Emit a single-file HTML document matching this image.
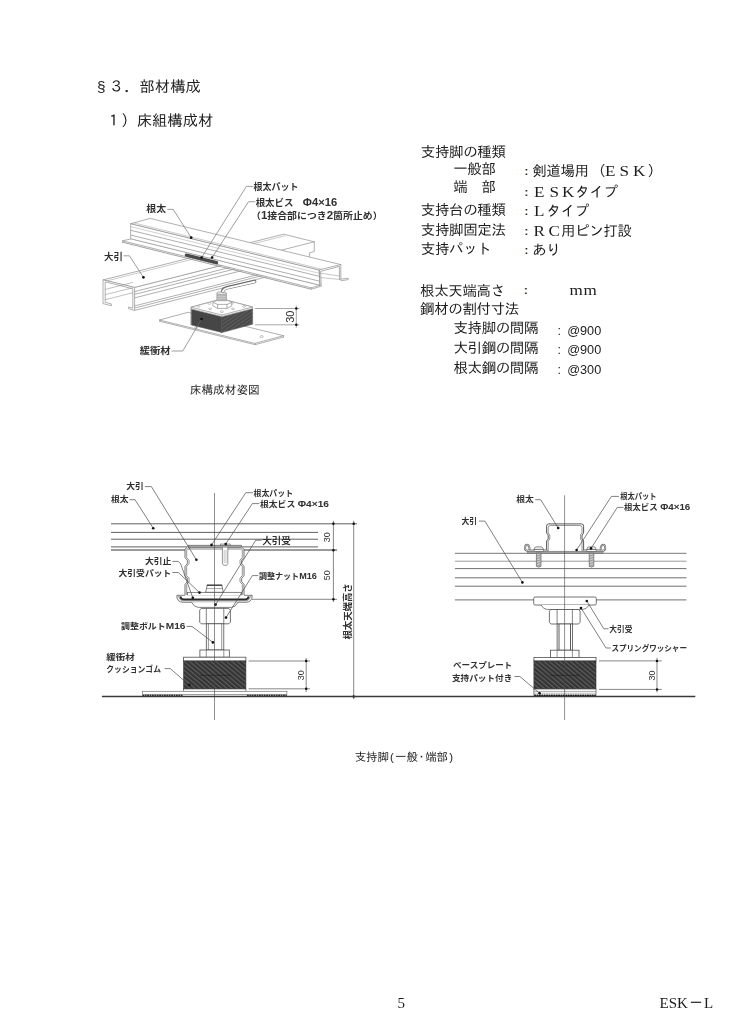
<!DOCTYPE html>
<html lang="ja">
<head>
<meta charset="utf-8">
<title>§３．部材構成</title>
<style>
html,body{margin:0;padding:0;background:#fff;}
body{width:731px;height:1024px;position:relative;overflow:hidden;
  font-family:"Liberation Sans","IPAGothic",sans-serif;color:#1c1c1c;}
.t{position:absolute;white-space:nowrap;line-height:1;margin:0;padding:0;}
.h{font-size:15.33px;}
.b{font-size:14.5px;letter-spacing:-0.38px;}
.fw{display:inline-block;text-align:center;}
.h .fw{width:15.33px;}
.b .fw{width:14.4px;letter-spacing:0;}
.lat{font-family:"Liberation Serif",serif;transform:scale(1.18,1.06);transform-origin:50% 80%;}
.num{font-family:"Liberation Sans",sans-serif;font-size:12.7px;}
.cap{font-size:11.67px;}
.hp{display:inline-block;width:6.4px;text-align:center;letter-spacing:0;}
.ft{font-family:"Liberation Serif","IPAGothic",serif;font-size:15px;}
svg.dw{position:absolute;left:0;top:0;filter:blur(0.45px);}
.t{filter:blur(0.3px);}
svg text{font-family:"Liberation Sans","Noto Sans CJK JP",sans-serif;font-weight:700;fill:#303030;}
</style>
</head>
<body>
<div class="t h" style="left:93.5px;top:78.9px"><span class="fw">§</span>３．部材構成</div>
<div class="t h" style="left:106px;top:113.1px">１）床組構成材</div>

<div class="t b" style="left:420.8px;top:144.8px">支持脚の種類</div>
<div class="t b" style="left:453.2px;top:161.6px">一般部</div>
<div class="t b" style="left:453.2px;top:179.7px">端　部</div>
<div class="t b" style="left:420.8px;top:202.9px">支持台の種類</div>
<div class="t b" style="left:420.8px;top:223.0px">支持脚固定法</div>
<div class="t b" style="left:420.8px;top:241.8px">支持パット</div>

<div class="t b" style="left:524.5px;top:165.9px;font-size:11px;font-weight:700;filter:none">:</div>
<div class="t b" style="left:532.2px;top:163.6px">剣道場用<span style="position:relative;left:2.5px">（</span><span class="fw lat">E</span><span class="fw lat">S</span><span class="fw lat">K</span><span style="position:relative;left:1.5px">）</span></div>
<div class="t b" style="left:524.5px;top:186.8px;font-size:11px;font-weight:700;filter:none">:</div>
<div class="t b" style="left:532.2px;top:184.5px"><span class="fw lat">E</span><span class="fw lat">S</span><span class="fw lat">K</span>タイプ</div>
<div class="t b" style="left:524.5px;top:206.2px;font-size:11px;font-weight:700;filter:none">:</div>
<div class="t b" style="left:532.2px;top:203.9px"><span class="fw lat">L</span>タイプ</div>
<div class="t b" style="left:524.5px;top:226.0px;font-size:11px;font-weight:700;filter:none">:</div>
<div class="t b" style="left:532.2px;top:223.7px"><span class="fw lat">R</span><span class="fw lat">C</span>用ピン打設</div>
<div class="t b" style="left:524.5px;top:245.2px;font-size:11px;font-weight:700;filter:none">:</div>
<div class="t b" style="left:532.2px;top:242.9px">あり</div>

<div class="t b" style="left:420.1px;top:283.5px">根太天端高さ</div>
<div class="t b" style="left:524.0px;top:285.3px;font-size:11px;font-weight:700;filter:none">:</div>
<div class="t b" style="left:568.8px;top:283.0px"><span class="fw lat">m</span><span class="fw lat">m</span></div>
<div class="t b" style="left:420.1px;top:301.8px">鋼材の割付寸法</div>
<div class="t b" style="left:453.4px;top:321.1px">支持脚の間隔</div>
<div class="t b" style="left:453.4px;top:340.6px">大引鋼の間隔</div>
<div class="t b" style="left:453.4px;top:360.8px">根太鋼の間隔</div>
<div class="t num" style="left:557.4px;top:324.5px">:</div>
<div class="t num" style="left:567.2px;top:324.5px">@900</div>
<div class="t num" style="left:557.4px;top:343.8px">:</div>
<div class="t num" style="left:567.2px;top:343.8px">@900</div>
<div class="t num" style="left:557.4px;top:364.1px">:</div>
<div class="t num" style="left:567.2px;top:364.1px">@300</div>

<div class="t cap" style="left:189.8px;top:384.2px">床構成材姿図</div>
<div class="t cap" style="left:354.8px;top:752px;font-size:11.5px;letter-spacing:-0.2px">支持脚<span class="hp">(</span>一般<span style="display:inline-block;width:7.6px;text-indent:-1.9px">・</span>端部<span class="hp">)</span></div>

<div class="t ft" style="left:397.6px;top:996.2px">5</div>
<div class="t ft" style="left:659.6px;top:996.2px">ESK<span style="display:inline-block;width:15px;text-align:center;margin:0 0.5px">－</span>L</div>
<svg class="dw" width="731" height="1024" viewBox="0 0 731 1024">
<g id="fig1">
<path d="M159.8 319.9 L188.2 312.3 L283.5 335.7 L255.1 343.3 Z" fill="#fff" stroke="#969696" stroke-width="0.75" stroke-linejoin="round" stroke-linecap="round" />
<path d="M159.8 321.3 L255.1 344.7 L283.5 337.1" fill="none" stroke="#969696" stroke-width="0.75" stroke-linejoin="round" stroke-linecap="round" />
<path d="M159.8 319.9 L159.8 321.3" fill="none" stroke="#969696" stroke-width="0.75" stroke-linejoin="round" stroke-linecap="round" />
<path d="M255.1 343.3 L255.1 344.7" fill="none" stroke="#969696" stroke-width="0.75" stroke-linejoin="round" stroke-linecap="round" />
<path d="M283.5 335.7 L283.5 337.1" fill="none" stroke="#969696" stroke-width="0.75" stroke-linejoin="round" stroke-linecap="round" />
<ellipse cx="261.6" cy="336.6" rx="1.6" ry="1" fill="#fff" stroke="#969696" stroke-width="0.6"/>
<ellipse cx="196" cy="327.6" rx="1.4" ry="0.9" fill="#fff" stroke="#969696" stroke-width="0.6"/>
<defs><pattern id="hz1" width="3" height="3" patternUnits="userSpaceOnUse" patternTransform="rotate(-35)"><rect width="3" height="3" fill="#494949"/><rect width="3" height="0.8" fill="#626262"/></pattern></defs>
<path d="M191.3 308.9 L221.9 316.6 L221.9 332.6 L191.3 324.9 Z" fill="#464646" stroke="#555" stroke-width="0.5" stroke-linejoin="round" stroke-linecap="round" />
<path d="M221.9 316.6 L252.6 308.6 L252.6 324.2 L221.9 332.6 Z" fill="url(#hz1)" stroke="#555" stroke-width="0.5" stroke-linejoin="round" stroke-linecap="round" />
<path d="M191.3 308.9 L221.9 316.6 L252.6 308.6 L252.6 307.0 L222.0 299.0 L191.3 307.3 Z" fill="#fff" stroke="#969696" stroke-width="0.75" stroke-linejoin="round" stroke-linecap="round" />
<path d="M191.3 307.3 L221.9 315.0 L252.6 307.0 L222.0 299.0 Z" fill="#fff" stroke="#969696" stroke-width="0.75" stroke-linejoin="round" stroke-linecap="round" />
<path d="M221.9 315.0 L221.9 316.6" fill="none" stroke="#969696" stroke-width="0.75" stroke-linejoin="round" stroke-linecap="round" />
<ellipse cx="198.5" cy="306.4" rx="1.5" ry="0.9" fill="#fff" stroke="#969696" stroke-width="0.55"/>
<ellipse cx="209.5" cy="303.4" rx="1.5" ry="0.9" fill="#fff" stroke="#969696" stroke-width="0.55"/>
<ellipse cx="210.2" cy="308.9" rx="1.5" ry="0.9" fill="#fff" stroke="#969696" stroke-width="0.55"/>
<ellipse cx="221.9" cy="311.7" rx="1.5" ry="0.9" fill="#fff" stroke="#969696" stroke-width="0.55"/>
<ellipse cx="233.0" cy="308.9" rx="1.5" ry="0.9" fill="#fff" stroke="#969696" stroke-width="0.55"/>
<ellipse cx="244.0" cy="306.4" rx="1.5" ry="0.9" fill="#fff" stroke="#969696" stroke-width="0.55"/>
<ellipse cx="231.7" cy="303.4" rx="1.5" ry="0.9" fill="#fff" stroke="#969696" stroke-width="0.55"/>
<path d="M213.2 302.4 L217.0 300.2 L227.6 300.2 L231.7 302.4 L231.7 306.0 L227.0 308.4 L217.6 308.4 L213.2 306.0 Z" fill="#fff" stroke="#969696" stroke-width="0.75" stroke-linejoin="round" stroke-linecap="round" />
<path d="M213.2 302.4 L217.6 304.4 L227.0 304.4 L231.7 302.4" fill="none" stroke="#969696" stroke-width="0.75" stroke-linejoin="round" stroke-linecap="round" />
<path d="M217.6 304.4 L217.6 308.4" fill="none" stroke="#969696" stroke-width="0.75" stroke-linejoin="round" stroke-linecap="round" />
<path d="M227.0 304.4 L227.0 308.4" fill="none" stroke="#969696" stroke-width="0.75" stroke-linejoin="round" stroke-linecap="round" />
<rect x="216.9" y="293.2" width="9.6" height="7.6" fill="#cfcfcf" stroke="#969696" stroke-width="0.7"/>
<ellipse cx="221.7" cy="293.2" rx="4.8" ry="1.4" fill="#e4e4e4" stroke="#969696" stroke-width="0.7"/>
<path d="M216.9 295.2 Q221.7 296.8 226.5 295.2" fill="none" stroke="#9a9a9a" stroke-width="0.6"/>
<path d="M216.9 297.2 Q221.7 298.8 226.5 297.2" fill="none" stroke="#9a9a9a" stroke-width="0.6"/>
<path d="M216.9 299.0 Q221.7 300.6 226.5 299.0" fill="none" stroke="#9a9a9a" stroke-width="0.6"/>
<path d="M134.6 287.4 L274.8 251.8 L274.8 274.8 L134.6 310.4 Z" fill="#fff" stroke="none" stroke-width="0.75" stroke-linejoin="round" stroke-linecap="round" />
<path d="M134.6 287.4 L274.8 251.8" fill="none" stroke="#969696" stroke-width="0.75" stroke-linejoin="round" stroke-linecap="round" />
<path d="M134.6 291.6 L274.8 256.0" fill="none" stroke="#969696" stroke-width="0.75" stroke-linejoin="round" stroke-linecap="round" />
<path d="M134.6 294.4 L274.8 258.8" fill="none" stroke="#969696" stroke-width="0.75" stroke-linejoin="round" stroke-linecap="round" />
<path d="M134.6 297.9 L274.8 262.3" fill="none" stroke="#969696" stroke-width="0.75" stroke-linejoin="round" stroke-linecap="round" />
<path d="M134.6 305.9 L274.8 270.3" fill="none" stroke="#969696" stroke-width="0.75" stroke-linejoin="round" stroke-linecap="round" />
<path d="M134.6 308.0 L274.8 272.4" fill="none" stroke="#969696" stroke-width="0.75" stroke-linejoin="round" stroke-linecap="round" />
<path d="M134.6 310.4 L274.8 274.8" fill="none" stroke="#969696" stroke-width="0.75" stroke-linejoin="round" stroke-linecap="round" />
<path d="M103.4 279.9 L283.5 234.2 L314.3 241.8 L134.6 287.4 Z" fill="#fff" stroke="#969696" stroke-width="0.75" stroke-linejoin="round" stroke-linecap="round" />
<path d="M104.6 281.5 L284.7 235.8" fill="none" stroke="#969696" stroke-width="0.5" stroke-linejoin="round" stroke-linecap="round" />
<path d="M103.4 279.9 L134.6 287.4 L134.6 310.4 L128.6 308.8 L128.6 307.0 L132.8 308.2 L132.8 288.8 L105.2 281.8 L105.2 302.3 L111.4 303.9 L111.4 305.7 L103.4 303.7 Z" fill="#fff" stroke="#969696" stroke-width="0.75" stroke-linejoin="round" stroke-linecap="round" />
<path d="M105.2 289.4 L132.6 282.5" fill="none" stroke="#969696" stroke-width="0.6" stroke-linejoin="round" stroke-linecap="round" />
<path d="M105.2 294.7 L132.6 287.8" fill="none" stroke="#969696" stroke-width="0.6" stroke-linejoin="round" stroke-linecap="round" />
<path d="M105.2 299.7 L132.6 292.8" fill="none" stroke="#969696" stroke-width="0.6" stroke-linejoin="round" stroke-linecap="round" />
<path d="M314.3 241.8 L314.3 251.5 L309.4 252.9 L309.4 257.4" fill="none" stroke="#969696" stroke-width="0.75" stroke-linejoin="round" stroke-linecap="round" />
<path d="M222.6 291.0 Q223.6 288.6 227 287.8 L254.6 281.5" fill="none" stroke="#6a6a6a" stroke-width="3.5" stroke-linecap="round"/>
<path d="M222.75 291.3 Q223.75 288.9 227.1 288.1 L254.6 281.8" fill="none" stroke="#fafafa" stroke-width="2.0" stroke-linecap="round"/>
<path d="M340.8 264.6 L340.8 279.2 L348.2 278.2 L348.2 279.6 L340.8 280.8" fill="#fff" stroke="#969696" stroke-width="0.75" stroke-linejoin="round" stroke-linecap="round" />
<path d="M131.1 238.9 L122.5 240.8 L311.2 287.8 L319.9 285.3 Z" fill="#fff" stroke="#969696" stroke-width="0.75" stroke-linejoin="round" stroke-linecap="round" />
<path d="M122.5 242.2 L311.2 289.2" fill="none" stroke="#969696" stroke-width="0.9" stroke-linejoin="round" stroke-linecap="round" />
<path d="M122.5 240.8 L122.5 242.2" fill="none" stroke="#969696" stroke-width="0.75" stroke-linejoin="round" stroke-linecap="round" />
<path d="M131.1 223.6 L319.2 269.9 L319.9 285.3 L131.1 238.9 Z" fill="#fff" stroke="#969696" stroke-width="0.75" stroke-linejoin="round" stroke-linecap="round" />
<path d="M131.1 226.7 L319.2 273.3" fill="none" stroke="#b4b4b4" stroke-width="0.6" stroke-linejoin="round" stroke-linecap="round" />
<path d="M131.1 230.4 L319.2 276.3" fill="none" stroke="#969696" stroke-width="0.75" stroke-linejoin="round" stroke-linecap="round" />
<path d="M131.1 235.2 L319.2 281.1" fill="none" stroke="#969696" stroke-width="0.75" stroke-linejoin="round" stroke-linecap="round" />
<path d="M131.1 223.6 L150.2 218.4 L340.8 264.6 L319.2 269.9 Z" fill="#fff" stroke="#969696" stroke-width="0.75" stroke-linejoin="round" stroke-linecap="round" />
<path d="M133.8 222.9 L321.8 269.3" fill="none" stroke="#969696" stroke-width="0.5" stroke-linejoin="round" stroke-linecap="round" />
<path d="M311.2 287.8 L311.2 289.2 L321.3 286.2 L320.6 271.4 L339.4 266.4 L339.4 279.4 L340.8 279.2" fill="none" stroke="#969696" stroke-width="0.75" stroke-linejoin="round" stroke-linecap="round" />
<path d="M320.6 273.2 L339.4 276.0" fill="none" stroke="#969696" stroke-width="0.55" stroke-linejoin="round" stroke-linecap="round" />
<path d="M320.6 277.6 L339.4 279.4" fill="none" stroke="#969696" stroke-width="0.55" stroke-linejoin="round" stroke-linecap="round" />
<path d="M319.2 269.9 L319.9 285.3" fill="none" stroke="#969696" stroke-width="0.75" stroke-linejoin="round" stroke-linecap="round" />
<path d="M186.4 255.2 L216.6 262.6" fill="none" stroke="#4a4a4a" stroke-width="3.3" stroke-linecap="round"/>
<path d="M255.5 308.5 L299.0 308.5" fill="none" stroke="#6a6a6a" stroke-width="0.6" stroke-linejoin="round" stroke-linecap="round" />
<path d="M255.5 324.8 L299.0 324.8" fill="none" stroke="#6a6a6a" stroke-width="0.6" stroke-linejoin="round" stroke-linecap="round" />
<path d="M296.3 306.0 L296.3 327.3" fill="none" stroke="#6a6a6a" stroke-width="0.6" stroke-linejoin="round" stroke-linecap="round" />
<circle cx="296.3" cy="308.5" r="1.2" fill="#111"/>
<circle cx="296.3" cy="324.8" r="1.2" fill="#111"/>
<text transform="translate(294.2 316.7) rotate(-90)" text-anchor="middle" font-size="11" style="font-weight:400;font-family:'Liberation Sans',sans-serif" fill="#333">30</text>
<path d="M167.7 209.4 L173.2 209.4 L191.2 237.7" fill="none" stroke="#6a6a6a" stroke-width="0.65" stroke-linejoin="round" stroke-linecap="round" />
<circle cx="191.2" cy="237.7" r="1.35" fill="#111"/>
<path d="M123.9 255.8 L129.4 255.8 L143.4 277.3" fill="none" stroke="#6a6a6a" stroke-width="0.65" stroke-linejoin="round" stroke-linecap="round" />
<circle cx="143.4" cy="277.3" r="1.35" fill="#111"/>
<path d="M253.0 186.4 L246.4 186.4 L201.6 257.5" fill="none" stroke="#6a6a6a" stroke-width="0.65" stroke-linejoin="round" stroke-linecap="round" />
<circle cx="201.6" cy="257.5" r="1.35" fill="#111"/>
<path d="M255.0 201.7 L248.6 201.7 L212.1 257.5" fill="none" stroke="#6a6a6a" stroke-width="0.65" stroke-linejoin="round" stroke-linecap="round" />
<circle cx="212.1" cy="257.5" r="1.35" fill="#111"/>
<path d="M171.9 351.0 L182.8 351.0 L201.6 319.0" fill="none" stroke="#6a6a6a" stroke-width="0.65" stroke-linejoin="round" stroke-linecap="round" />
<circle cx="201.6" cy="319.0" r="1.35" fill="#111"/>
<text x="146.3" y="212.2" font-size="9.1" textLength="19.8" lengthAdjust="spacingAndGlyphs" >根太</text>
<text x="104.1" y="259.7" font-size="9.1" textLength="19.0" lengthAdjust="spacingAndGlyphs" >大引</text>
<text x="253.5" y="190.3" font-size="9.1" textLength="45.0" lengthAdjust="spacingAndGlyphs" >根太パット</text>
<text x="255.7" y="205.5" font-size="9.1" textLength="81.5" lengthAdjust="spacingAndGlyphs" >根太ビス　<tspan font-size="10.8">Φ4×16</tspan></text>
<text x="251.0" y="218.8" font-size="9.1" textLength="131.6" lengthAdjust="spacingAndGlyphs" >（<tspan font-size="10.6">1</tspan>接合部につき<tspan font-size="10.6">2</tspan>箇所止め）</text>
<text x="139.7" y="354.2" font-size="9.1" textLength="30.8" lengthAdjust="spacingAndGlyphs" >緩衝材</text>
</g>
<g id="fig2">
<defs><pattern id="hz2" width="3.4" height="3.4" patternUnits="userSpaceOnUse" patternTransform="rotate(40)"><rect width="3.4" height="3.4" fill="#343434"/><rect width="3.4" height="1.2" fill="#5c5c5c"/></pattern></defs>
<path d="M111.0 523.8 L357.0 523.8" fill="none" stroke="#606060" stroke-width="1.0" />
<path d="M111.0 532.4 L318.0 532.4" fill="none" stroke="#606060" stroke-width="1.0" />
<path d="M111.0 539.2 L318.0 539.2" fill="none" stroke="#606060" stroke-width="1.0" />
<path d="M111.0 546.9 L318.0 546.9" fill="none" stroke="#606060" stroke-width="1.0" />
<path d="M111.0 550.0 L337.0 550.0" fill="none" stroke="#7a7a7a" stroke-width="1.6" />
<path d="M186.6 547.4 L185.0 549.6 L185.0 557.6 L187.3 560.2 L187.3 563.8 L185.0 566.4 L185.0 575.6 L187.3 578.2 L187.3 581.8 L185.0 584.4 L185.0 595.3 L244.0 595.3 L244.0 584.4 L241.7 581.8 L241.7 578.2 L244.0 575.6 L244.0 566.4 L241.7 563.8 L241.7 560.2 L244.0 557.6 L244.0 549.6 L242.4 547.4 Z" fill="#fff" stroke="none" stroke-width="0.8" stroke-linejoin="round" />
<path d="M186.6 547.4 L185.0 549.6 L185.0 557.6 L187.3 560.2 L187.3 563.8 L185.0 566.4 L185.0 575.6 L187.3 578.2 L187.3 581.8 L185.0 584.4 L185.0 595.3" fill="none" stroke="#4f4f4f" stroke-width="0.8" stroke-linejoin="round" />
<path d="M242.4 547.4 L244.0 549.6 L244.0 557.6 L241.7 560.2 L241.7 563.8 L244.0 566.4 L244.0 575.6 L241.7 578.2 L241.7 581.8 L244.0 584.4 L244.0 595.3" fill="none" stroke="#4f4f4f" stroke-width="0.8" stroke-linejoin="round" />
<path d="M186.7 549.6 L186.7 557.6 L189.0 560.2 L189.0 563.8 L186.7 566.4 L186.7 575.6 L189.0 578.2 L189.0 581.8 L186.7 584.4 L186.7 595.3" fill="none" stroke="#4f4f4f" stroke-width="0.6" stroke-linejoin="round" />
<path d="M242.3 549.6 L242.3 557.6 L240.0 560.2 L240.0 563.8 L242.3 566.4 L242.3 575.6 L240.0 578.2 L240.0 581.8 L242.3 584.4 L242.3 595.3" fill="none" stroke="#4f4f4f" stroke-width="0.6" stroke-linejoin="round" />
<rect x="188.5" y="545.2" width="52.9" height="2.2" fill="#a2a2a2" stroke="#5a5a5a" stroke-width="0.6" />
<path d="M186.6 549.0 L242.4 549.0" fill="none" stroke="#4f4f4f" stroke-width="0.7" />
<path d="M222.4 547.5 L222.4 563.6 L223.6 565.3 L226.6 565.3 L227.8 563.6 L227.8 547.5" fill="#fff" stroke="#4f4f4f" stroke-width="0.6" stroke-linejoin="round" />
<path d="M224.2 550.0 L224.2 563.0" fill="none" stroke="#888" stroke-width="0.5" />
<path d="M226.0 550.0 L226.0 563.0" fill="none" stroke="#888" stroke-width="0.5" />
<rect x="220.2" y="544.0" width="10.0" height="1.4" fill="#ddd" stroke="#4f4f4f" stroke-width="0.5" />
<rect x="187.4" y="592.3" width="54.2" height="3.3" fill="#fff" stroke="#4f4f4f" stroke-width="0.7" />
<path d="M205.7 592.3 L207.2 585.2 L221.8 585.2 L223.3 592.3 Z" fill="#fff" stroke="#4f4f4f" stroke-width="0.7" stroke-linejoin="round" />
<path d="M206.8 585.2 L222.2 585.2" fill="none" stroke="#333" stroke-width="1.2" />
<path d="M206.4 588.6 L222.6 588.6" fill="none" stroke="#4f4f4f" stroke-width="0.5" />
<path d="M176.8 595.3 Q176.8 602.2 183 602.2 L246 602.2 Q252.2 602.2 252.2 595.3" fill="#fff" stroke="#4f4f4f" stroke-width="0.8"/>
<path d="M178.6 595.3 Q178.8 600.6 183.4 600.6 L245.6 600.6 Q250.2 600.6 250.4 595.3" fill="none" stroke="#4f4f4f" stroke-width="0.6"/>
<path d="M176.8 595.3 L185.0 595.3" fill="none" stroke="#4f4f4f" stroke-width="0.7" />
<path d="M244.0 595.3 L252.2 595.3" fill="none" stroke="#4f4f4f" stroke-width="0.7" />
<path d="M180.4 596.4 Q180.8 599.4 183.6 599.4 L245.4 599.4 Q248.2 599.4 248.6 596.4" fill="none" stroke="#2a2a2a" stroke-width="1.9"/>
<path d="M191.6 602.2 Q194 607.4 198.4 607.4 L231.2 607.4 Q235.6 607.4 238 602.2" fill="#fff" stroke="#4f4f4f" stroke-width="0.7"/>
<path d="M201.2 608.4 L228.8 608.4 L230.4 610.2 L230.4 622.2 L228.8 623.8 L201.2 623.8 L199.7 622.2 L199.7 610.2 Z" fill="#fff" stroke="#4f4f4f" stroke-width="0.8" stroke-linejoin="round" />
<path d="M206.3 608.4 L206.3 623.8" fill="none" stroke="#4f4f4f" stroke-width="0.7" />
<path d="M223.8 608.4 L223.8 623.8" fill="none" stroke="#4f4f4f" stroke-width="0.7" />
<rect x="206.3" y="623.8" width="17.5" height="26.2" fill="#fff" stroke="#4f4f4f" stroke-width="0.8" />
<path d="M208.4 623.8 L208.4 650.0" fill="none" stroke="#4f4f4f" stroke-width="0.6" />
<path d="M221.7 623.8 L221.7 650.0" fill="none" stroke="#4f4f4f" stroke-width="0.6" />
<rect x="199.9" y="650.0" width="29.4" height="7.2" fill="#fff" stroke="#4f4f4f" stroke-width="0.8" />
<path d="M206.3 650.0 L206.3 657.2" fill="none" stroke="#4f4f4f" stroke-width="0.6" />
<path d="M223.8 650.0 L223.8 657.2" fill="none" stroke="#4f4f4f" stroke-width="0.6" />
<rect x="183.6" y="657.2" width="62.3" height="3.8" fill="#fff" stroke="#4f4f4f" stroke-width="0.8" />
<rect x="183.6" y="661.0" width="62.3" height="28.0" fill="url(#hz2)" stroke="#333" stroke-width="0.6" />
<path d="M200.0 675.4 L230.0 675.4" fill="none" stroke="#1e1e1e" stroke-width="0.6" />
<rect x="183.6" y="689.0" width="62.3" height="2.4" fill="#fff" stroke="#4f4f4f" stroke-width="0.6" />
<rect x="142.4" y="691.3" width="144.5" height="3.3" fill="#fff" stroke="#777" stroke-width="0.7" />
<path d="M142.4 695.4 L182.5 695.4" fill="none" stroke="#2a2a2a" stroke-width="1.3" stroke-dasharray="1.8 0.6"/>
<path d="M247.0 695.4 L286.9 695.4" fill="none" stroke="#2a2a2a" stroke-width="1.3" stroke-dasharray="1.8 0.6"/>
<path d="M214.5 493.0 L214.5 720.0" fill="none" stroke="#444" stroke-width="0.6" />
<path d="M252.0 599.3 L337.0 599.3" fill="none" stroke="#555" stroke-width="0.7" />
<path d="M333.4 520.8 L333.4 602.0" fill="none" stroke="#555" stroke-width="0.7" />
<circle cx="333.4" cy="523.8" r="1.25" fill="#111"/>
<circle cx="333.4" cy="550.2" r="1.25" fill="#111"/>
<circle cx="333.4" cy="599.3" r="1.25" fill="#111"/>
<path d="M353.7 520.8 L353.7 699.2" fill="none" stroke="#555" stroke-width="0.7" />
<circle cx="353.7" cy="523.8" r="1.25" fill="#111"/>
<circle cx="353.7" cy="696.5" r="1.25" fill="#111"/>
<text transform="translate(330.0 537.3) rotate(-90)" text-anchor="middle" font-size="9" style="font-weight:400;font-family:'Liberation Sans',sans-serif" fill="#333">30</text>
<text transform="translate(330.0 575.2) rotate(-90)" text-anchor="middle" font-size="9" style="font-weight:400;font-family:'Liberation Sans',sans-serif" fill="#333">50</text>
<text transform="translate(350.6 611.4) rotate(-90)" text-anchor="middle" font-size="8.8" textLength="56.2" lengthAdjust="spacingAndGlyphs" >根太天端高さ</text>
<path d="M248.6 661.0 L310.0 661.0" fill="none" stroke="#555" stroke-width="0.7" />
<path d="M248.6 688.8 L310.0 688.8" fill="none" stroke="#555" stroke-width="0.7" />
<path d="M306.2 658.0 L306.2 692.0" fill="none" stroke="#555" stroke-width="0.7" />
<circle cx="306.2" cy="661.0" r="1.25" fill="#111"/>
<circle cx="306.2" cy="688.8" r="1.25" fill="#111"/>
<text transform="translate(304.3 675.2) rotate(-90)" text-anchor="middle" font-size="9" style="font-weight:400;font-family:'Liberation Sans',sans-serif" fill="#333">30</text>
<path d="M144.9 486.6 L151.4 486.6 L196.4 559.8" fill="none" stroke="#4a4a4a" stroke-width="0.7" stroke-linejoin="round" />
<circle cx="196.4" cy="559.8" r="1.3" fill="#111"/>
<path d="M129.5 499.7 L135.0 499.7 L153.2 528.2" fill="none" stroke="#4a4a4a" stroke-width="0.7" stroke-linejoin="round" />
<circle cx="153.2" cy="528.2" r="1.3" fill="#111"/>
<path d="M172.4 561.4 L178.4 561.4 L180.5 563.5 L192.8 597.8" fill="none" stroke="#4a4a4a" stroke-width="0.7" stroke-linejoin="round" />
<circle cx="192.8" cy="597.8" r="1.3" fill="#111"/>
<path d="M172.4 572.5 L178.4 572.5 L199.5 592.6" fill="none" stroke="#4a4a4a" stroke-width="0.7" stroke-linejoin="round" />
<circle cx="199.5" cy="592.6" r="1.3" fill="#111"/>
<path d="M253.0 492.7 L245.8 492.7 L211.5 544.9" fill="none" stroke="#4a4a4a" stroke-width="0.7" stroke-linejoin="round" />
<circle cx="211.5" cy="544.9" r="1.3" fill="#111"/>
<path d="M259.4 503.6 L252.4 503.6 L225.7 544.0" fill="none" stroke="#4a4a4a" stroke-width="0.7" stroke-linejoin="round" />
<circle cx="225.7" cy="544.0" r="1.3" fill="#111"/>
<path d="M261.8 540.2 L255.7 540.2 L215.6 604.6" fill="none" stroke="#4a4a4a" stroke-width="0.7" stroke-linejoin="round" />
<circle cx="215.6" cy="604.6" r="1.3" fill="#111"/>
<path d="M258.3 575.6 L252.4 575.6 L226.0 617.6" fill="none" stroke="#4a4a4a" stroke-width="0.7" stroke-linejoin="round" />
<circle cx="226.0" cy="617.6" r="1.3" fill="#111"/>
<path d="M186.6 626.4 L192.0 626.4 L212.9 642.4" fill="none" stroke="#4a4a4a" stroke-width="0.7" stroke-linejoin="round" />
<circle cx="212.9" cy="642.4" r="1.3" fill="#111"/>
<path d="M164.7 668.6 L170.2 668.6 L189.2 685.0" fill="none" stroke="#4a4a4a" stroke-width="0.7" stroke-linejoin="round" />
<circle cx="189.2" cy="685.0" r="1.3" fill="#111"/>
<text x="126.3" y="489.2" font-size="8.3" textLength="17.6" lengthAdjust="spacingAndGlyphs" >大引</text>
<text x="110.9" y="502.4" font-size="8.3" textLength="17.6" lengthAdjust="spacingAndGlyphs" >根太</text>
<text x="144.9" y="564.4" font-size="8.3" textLength="26.4" lengthAdjust="spacingAndGlyphs" >大引止</text>
<text x="118.6" y="575.7" font-size="8.3" textLength="52.6" lengthAdjust="spacingAndGlyphs" >大引受パット</text>
<text x="253.5" y="495.8" font-size="8.3" textLength="39.6" lengthAdjust="spacingAndGlyphs" >根太パット</text>
<text x="260.0" y="506.8" font-size="8.3" textLength="69.0" lengthAdjust="spacingAndGlyphs" >根太ビス <tspan font-size="9.6">Φ4×16</tspan></text>
<text x="262.2" y="544.0" font-size="8.8" textLength="28.6" lengthAdjust="spacingAndGlyphs" >大引受</text>
<text x="258.9" y="579.0" font-size="8.3" textLength="58.0" lengthAdjust="spacingAndGlyphs" >調整ナット<tspan font-size="9.4">M16</tspan></text>
<text x="121.0" y="629.3" font-size="8.3" textLength="64.5" lengthAdjust="spacingAndGlyphs" >調整ボルト<tspan font-size="9.4">M16</tspan></text>
<text x="106.3" y="659.5" font-size="8.3" textLength="28.4" lengthAdjust="spacingAndGlyphs" >緩衝材</text>
<text x="106.3" y="671.8" font-size="8.3" textLength="54.7" lengthAdjust="spacingAndGlyphs" >クッションゴム</text>
</g>
<path d="M101.9 696.5 L695.3 696.5" fill="none" stroke="#3a3a3a" stroke-width="1.3" />
<g id="fig3">
<path d="M454.9 553.3 L686.5 553.3" fill="none" stroke="#777" stroke-width="1.0" />
<path d="M454.9 561.2 L686.5 561.2" fill="none" stroke="#9a9a9a" stroke-width="1.0" />
<path d="M454.9 568.6 L686.5 568.6" fill="none" stroke="#606060" stroke-width="0.9" />
<path d="M454.9 577.8 L686.5 577.8" fill="none" stroke="#606060" stroke-width="0.9" />
<path d="M454.9 586.2 L686.5 586.2" fill="none" stroke="#606060" stroke-width="0.9" />
<path d="M454.9 599.9 L686.5 599.9" fill="none" stroke="#606060" stroke-width="0.9" />
<path d="M546.6 551.0 L546.6 541 L548.2 539 L548.2 535 L546.6 533 L546.6 526.1 Q546.6 523.9 548.8 523.9 L581.4 523.9 Q583.6 523.9 583.6 526.1 L583.6 533 L582.0 535 L582.0 539 L583.6 541 L583.6 551.0" fill="#fff" stroke="#444" stroke-width="0.9"/>
<path d="M548.2 551.0 L548.2 541 L549.8 539 L549.8 535 L548.2 533 L548.2 527.7 Q548.2 525.5 550.4 525.5 L579.8 525.5 Q582.0 525.5 582.0 527.7 L582.0 533 L580.4 535 L580.4 539 L582.0 541 L582.0 551.0" fill="none" stroke="#4f4f4f" stroke-width="0.6"/>
<path d="M546.6 550.4 L529.6 550.4 Q525.0 551.4 525.0 548.2 Q525.2 544.4 527.6 544.9 Q529.4 545.6 529.5 549.0" fill="none" stroke="#5c5c5c" stroke-width="2.0" stroke-linecap="round"/>
<path d="M546.6 550.4 L529.6 550.4 Q525.0 551.4 525.0 548.2 Q525.2 544.4 527.6 544.9 Q529.4 545.6 529.5 549.0" fill="none" stroke="#fff" stroke-width="0.7" stroke-linecap="round"/>
<path d="M583.6 550.4 L600.6 550.4 Q605.2 551.4 605.2 548.2 Q605.0 544.4 602.6 544.9 Q600.8 545.6 600.7 549.0" fill="none" stroke="#5c5c5c" stroke-width="2.0" stroke-linecap="round"/>
<path d="M583.6 550.4 L600.6 550.4 Q605.2 551.4 605.2 548.2 Q605.0 544.4 602.6 544.9 Q600.8 545.6 600.7 549.0" fill="none" stroke="#fff" stroke-width="0.7" stroke-linecap="round"/>
<rect x="527.4" y="551.2" width="75.6" height="2.0" fill="#a0a0a0" stroke="#666" stroke-width="0.5" />
<path d="M534.1 549.6 Q534.3 546.8 536.3 546.8 L541.1 546.8 Q543.1 546.8 543.3 549.6 Z" fill="#e8e8e8" stroke="#4f4f4f" stroke-width="0.6"/>
<rect x="534.1" y="549.6" width="9.2" height="1.6" fill="#fff" stroke="#4f4f4f" stroke-width="0.5" />
<path d="M536.4 553.2 L536.4 566.2 Q538.7 568.2 541.0 566.2 L541.0 553.2 Z" fill="#c9c9c9" stroke="#4f4f4f" stroke-width="0.6"/>
<path d="M536.4 556.3 L541.0 554.7" fill="none" stroke="#6a6a6a" stroke-width="0.5" />
<path d="M536.4 558.8 L541.0 557.2" fill="none" stroke="#6a6a6a" stroke-width="0.5" />
<path d="M536.4 561.3 L541.0 559.7" fill="none" stroke="#6a6a6a" stroke-width="0.5" />
<path d="M536.4 563.8 L541.0 562.2" fill="none" stroke="#6a6a6a" stroke-width="0.5" />
<path d="M536.4 566.3 L541.0 564.7" fill="none" stroke="#6a6a6a" stroke-width="0.5" />
<path d="M586.9 549.6 Q587.1 546.8 589.1 546.8 L593.9 546.8 Q595.9 546.8 596.1 549.6 Z" fill="#e8e8e8" stroke="#4f4f4f" stroke-width="0.6"/>
<rect x="586.9" y="549.6" width="9.2" height="1.6" fill="#fff" stroke="#4f4f4f" stroke-width="0.5" />
<path d="M589.2 553.2 L589.2 566.2 Q591.5 568.2 593.8 566.2 L593.8 553.2 Z" fill="#c9c9c9" stroke="#4f4f4f" stroke-width="0.6"/>
<path d="M589.2 556.3 L593.8 554.7" fill="none" stroke="#6a6a6a" stroke-width="0.5" />
<path d="M589.2 558.8 L593.8 557.2" fill="none" stroke="#6a6a6a" stroke-width="0.5" />
<path d="M589.2 561.3 L593.8 559.7" fill="none" stroke="#6a6a6a" stroke-width="0.5" />
<path d="M589.2 563.8 L593.8 562.2" fill="none" stroke="#6a6a6a" stroke-width="0.5" />
<path d="M589.2 566.3 L593.8 564.7" fill="none" stroke="#6a6a6a" stroke-width="0.5" />
<rect x="533.7" y="597.0" width="62.6" height="8.0" rx="1.4" fill="#fff" stroke="#4f4f4f" stroke-width="0.8"/>
<path d="M541.0 605.0 Q543.4 609.5 547.4 609.5 L582.6 609.5 Q586.6 609.5 589 605.0" fill="#fff" stroke="#4f4f4f" stroke-width="0.7"/>
<path d="M550.9 609.5 L578.6 609.5 L580.1 611.2 L580.1 622.4 L578.6 624.0 L550.9 624.0 L549.4 622.4 L549.4 611.2 Z" fill="#fff" stroke="#4f4f4f" stroke-width="0.8" stroke-linejoin="round" />
<path d="M557.1 609.5 L557.1 624.0" fill="none" stroke="#4f4f4f" stroke-width="0.7" />
<path d="M572.4 609.5 L572.4 624.0" fill="none" stroke="#4f4f4f" stroke-width="0.7" />
<rect x="557.1" y="624.0" width="15.3" height="26.2" fill="#fff" stroke="#4f4f4f" stroke-width="0.8" />
<path d="M559.0 624.0 L559.0 650.2" fill="none" stroke="#333" stroke-width="0.8" />
<path d="M570.5 624.0 L570.5 650.2" fill="none" stroke="#333" stroke-width="0.8" />
<rect x="550.5" y="650.2" width="28.5" height="7.2" fill="#fff" stroke="#4f4f4f" stroke-width="0.8" />
<path d="M557.1 650.2 L557.1 657.2" fill="none" stroke="#4f4f4f" stroke-width="0.6" />
<path d="M572.4 650.2 L572.4 657.2" fill="none" stroke="#4f4f4f" stroke-width="0.6" />
<rect x="533.9" y="657.4" width="62.1" height="3.6" fill="#fff" stroke="#4f4f4f" stroke-width="0.8" />
<rect x="533.9" y="661.0" width="62.1" height="28.0" fill="url(#hz2)" stroke="#333" stroke-width="0.6" />
<path d="M550.0 675.4 L580.0 675.4" fill="none" stroke="#1e1e1e" stroke-width="0.6" />
<rect x="533.9" y="689.0" width="62.1" height="6.4" fill="#fff" stroke="#4f4f4f" stroke-width="0.7" />
<path d="M533.9 691.4 L596.0 691.4" fill="none" stroke="#777" stroke-width="0.6" />
<path d="M533.9 693.2 L596.0 693.2" fill="none" stroke="#999" stroke-width="0.6" />
<path d="M534.2 695.2 L595.8 695.2" fill="none" stroke="#222" stroke-width="1.5" stroke-dasharray="1.8 0.6"/>
<path d="M564.6 495.3 L564.6 720.0" fill="none" stroke="#444" stroke-width="0.6" />
<path d="M599.0 660.9 L661.8 660.9" fill="none" stroke="#555" stroke-width="0.7" />
<path d="M599.0 689.4 L661.8 689.4" fill="none" stroke="#555" stroke-width="0.7" />
<path d="M657.0 657.8 L657.0 692.4" fill="none" stroke="#555" stroke-width="0.7" />
<circle cx="657.0" cy="660.9" r="1.25" fill="#111"/>
<circle cx="657.0" cy="689.4" r="1.25" fill="#111"/>
<text transform="translate(654.8 675.6) rotate(-90)" text-anchor="middle" font-size="9" style="font-weight:400;font-family:'Liberation Sans',sans-serif" fill="#333">30</text>
<path d="M535.2 499.7 L540.7 499.7 L558.2 528.0" fill="none" stroke="#4a4a4a" stroke-width="0.7" stroke-linejoin="round" />
<circle cx="558.2" cy="528.0" r="1.3" fill="#111"/>
<path d="M479.0 521.1 L484.9 521.1 L522.4 582.4" fill="none" stroke="#4a4a4a" stroke-width="0.7" stroke-linejoin="round" />
<circle cx="522.4" cy="582.4" r="1.3" fill="#111"/>
<path d="M619.0 496.4 L611.4 496.4 L576.6 550.0" fill="none" stroke="#4a4a4a" stroke-width="0.7" stroke-linejoin="round" />
<circle cx="576.6" cy="550.0" r="1.3" fill="#111"/>
<path d="M623.5 507.4 L617.3 507.4 L591.0 548.4" fill="none" stroke="#4a4a4a" stroke-width="0.7" stroke-linejoin="round" />
<circle cx="591.0" cy="548.4" r="1.3" fill="#111"/>
<path d="M608.6 628.8 L603.8 628.8 L586.8 601.0" fill="none" stroke="#4a4a4a" stroke-width="0.7" stroke-linejoin="round" />
<circle cx="586.8" cy="601.0" r="1.3" fill="#111"/>
<path d="M610.8 648.0 L606.0 648.0 L581.0 608.0" fill="none" stroke="#4a4a4a" stroke-width="0.7" stroke-linejoin="round" />
<circle cx="581.0" cy="608.0" r="1.3" fill="#111"/>
<path d="M514.4 676.5 L519.9 676.5 L539.6 693.3" fill="none" stroke="#4a4a4a" stroke-width="0.7" stroke-linejoin="round" />
<circle cx="539.6" cy="693.3" r="1.3" fill="#111"/>
<text x="516.2" y="502.4" font-size="8.3" textLength="17.6" lengthAdjust="spacingAndGlyphs" >根太</text>
<text x="461.4" y="524.3" font-size="8.3" textLength="15.6" lengthAdjust="spacingAndGlyphs" >大引</text>
<text x="620.2" y="499.1" font-size="8.3" textLength="36.3" lengthAdjust="spacingAndGlyphs" >根太パット</text>
<text x="623.9" y="510.0" font-size="8.3" textLength="66.4" lengthAdjust="spacingAndGlyphs" >根太ビス <tspan font-size="9.6">Φ4×16</tspan></text>
<text x="609.2" y="632.1" font-size="8.0" textLength="23.2" lengthAdjust="spacingAndGlyphs" >大引受</text>
<text x="611.4" y="651.2" font-size="8.0" textLength="75.6" lengthAdjust="spacingAndGlyphs" >スプリングワッシャー</text>
<text x="453.1" y="667.6" font-size="8.2" textLength="59.2" lengthAdjust="spacingAndGlyphs" >ベースプレート</text>
<text x="452.0" y="680.5" font-size="8.2" textLength="60.3" lengthAdjust="spacingAndGlyphs" >支持パット付き</text>
</g>
</svg>
</body>
</html>
